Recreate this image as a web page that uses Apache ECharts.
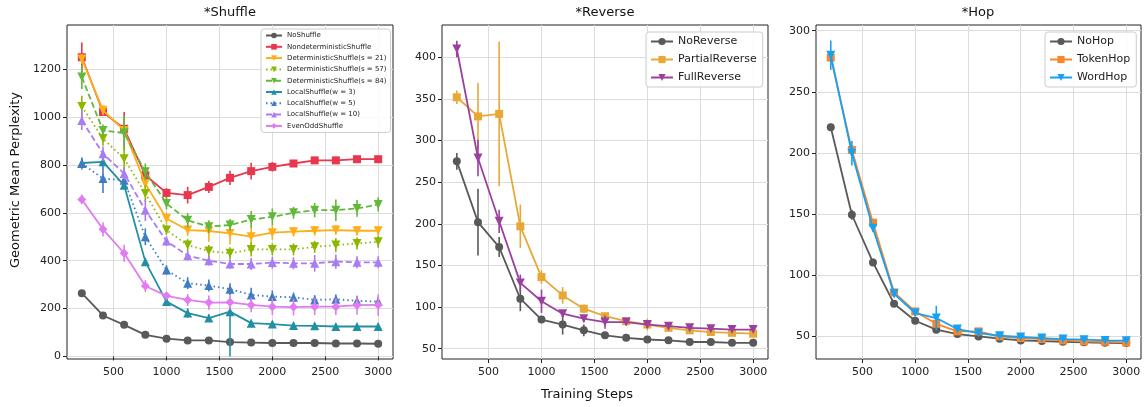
<!DOCTYPE html>
<html><head><meta charset="utf-8">
<script src="https://cdn.jsdelivr.net/npm/echarts@6/dist/echarts.min.js"></script>
<style>html,body{margin:0;padding:0;background:#fff}#c{width:1146px;height:407px}</style>
</head><body><div id="c"></div>
<script>
// ---- data ----
const steps = [200,400,600,800,1000,1200,1400,1600,1800,2000,2200,2400,2600,2800,3000];
const xTicks = [500,1000,1500,2000,2500,3000];
const yTicks1 = [0,200,400,600,800,1000,1200];
const yTicks2 = [50,100,150,200,250,300,350,400];
const yTicks3 = [50,100,150,200,250,300];

// *Shuffle
const noShuffle     = [264,171,132,90,74,67,67,60,58,56,56,56,54,54,53];
const noShuffleErr  = [5,5,5,5,4,4,4,4,3,3,3,3,3,3,3];
const nondetShuffle = [1250,1021,951,757,683,674,708,746,774,792,806,819,819,824,824];
const nondetShuffleErr = [62,15,70,25,20,35,25,30,35,20,15,12,15,12,10];
const det21 = [1243,1028,944,722,576,528,524,514,500,517,521,525,528,525,525];
const det21Err = [20,20,25,30,25,25,45,45,40,30,20,20,20,20,20];
const det57 = [1044,910,826,681,528,465,440,431,447,447,447,458,465,472,479];
const det57Err = [45,30,60,35,20,25,25,25,30,25,25,25,30,25,25];
const det84 = [1167,944,933,771,639,569,542,549,572,583,600,611,611,618,635];
const det84Err = [50,25,70,35,25,30,25,25,35,35,25,30,45,35,30];
const local3 = [808,813,715,396,229,181,160,187,139,135,129,128,125,125,125];
const local3Err = [20,15,15,15,15,20,15,[187,18],15,12,12,12,12,12,12];
const local5 = [806,743,736,500,361,306,296,281,257,250,247,236,239,232,229];
const local5Err = [25,60,20,35,20,25,25,25,30,25,20,20,20,20,20];
const local10 = [986,847,764,611,482,421,400,386,386,392,389,389,396,393,393];
const local10Err = [40,30,25,45,20,20,20,20,25,25,25,35,30,25,25];
const evenOdd = [656,531,431,294,253,236,225,226,215,208,206,208,208,214,215];
const evenOddErr = [20,30,35,25,15,25,30,30,30,35,35,35,35,40,45];

// *Reverse
const noReverse = [275,202,172,110,85,79,72,66,63,61,60,58,58,57,57];
const noReverseErr = [10,40,12,15,4,12,7,3,3,3,3,3,3,3,3];
const partialReverse = [352,329,332,197,136,114,98,89,83,79,75,72,70,69,68];
const partialReverseErr = [8,40,87,26,8,10,5,4,4,7,4,4,3,3,3];
const fullReverse = [410,279,203,129,107,92,86,82,82,79,77,75,74,73,73];
const fullReverseErr = [10,22,14,10,14,4,4,8,4,4,3,3,3,3,3];

// *Hop
const noHop = [221,149.5,110.5,76.7,62.8,55.5,51.9,50,48.1,46.7,46.2,45.6,45.1,44.8,44.6];
const noHopErr = [3,4,3,2,2,1,1,1,1,1,1,1,1,1,1];
const tokenHop = [278,202.5,143,86,70.4,60.3,54.1,54.1,50,48.6,47.8,46.7,45.9,45.6,45.1];
const tokenHopErr = [4,4,3,2,2,2,1,1,1,1,1,1,1,1,1];
const wordHop = [280,199.8,138.5,84.9,69.1,65,56,52.7,50.5,49.5,48.6,47.8,47.3,46.7,46.5];
const wordHopErr = [12,10,3,3,2,10,2,1,1,1,1,1,1,1,1];

// ---- build ----
const FONT = 'DejaVu Sans';
const series = [];
function add(panel, name, vals, errs, color, symbol, size, lineType, rotate) {
  series.push({
    name: name, type: 'line', xAxisIndex: panel, yAxisIndex: panel,
    data: steps.map((s, i) => [s, vals[i]]),
    symbol: symbol, symbolSize: size, symbolRotate: rotate || 0,
    lineStyle: { color: color, width: 1.8, type: lineType || 'solid' },
    itemStyle: { color: color },
    z: 3 + series.length / 100
  });
  series.push({
    name: name + '__err', type: 'custom', xAxisIndex: panel, yAxisIndex: panel,
    data: steps.map((s, i) => {
      const e = errs[i];
      const lo = Array.isArray(e) ? e[0] : e, hi = Array.isArray(e) ? e[1] : e;
      return [s, vals[i] - lo, vals[i] + hi];
    }),
    encode: { x: 0, y: [1, 2] },
    z: 3 + series.length / 100,
    renderItem: function (params, api) {
      const a = api.coord([api.value(0), api.value(1)]);
      const b = api.coord([api.value(0), api.value(2)]);
      return { type: 'line', shape: { x1: a[0], y1: a[1], x2: b[0], y2: b[1] },
               style: { stroke: color, lineWidth: 1.6 } };
    }
  });
}
const GRAY = '#595959';
add(0, 'NoShuffle', noShuffle, noShuffleErr, GRAY, 'circle', 8);
add(0, 'NondeterministicShuffle', nondetShuffle, nondetShuffleErr, '#e8384f', 'rect', 8);
add(0, 'DeterministicShuffle(s = 21)', det21, det21Err, '#fdae19', 'triangle', 9, 'solid', 180);
add(0, 'DeterministicShuffle(s = 57)', det57, det57Err, '#8db600', 'triangle', 9, [1.5, 3], 180);
add(0, 'DeterministicShuffle(s = 84)', det84, det84Err, '#62b83a', 'triangle', 9, [6, 3], 180);
add(0, 'LocalShuffle(w = 3)', local3, local3Err, '#2190a4', 'triangle', 9);
add(0, 'LocalShuffle(w = 5)', local5, local5Err, '#3f7cc2', 'triangle', 9, [1.5, 3]);
add(0, 'LocalShuffle(w = 10)', local10, local10Err, '#a97cf2', 'triangle', 9, [6, 3]);
add(0, 'EvenOddShuffle', evenOdd, evenOddErr, '#e07cf0', 'diamond', 9);

add(1, 'NoReverse', noReverse, noReverseErr, GRAY, 'circle', 8);
add(1, 'PartialReverse', partialReverse, partialReverseErr, '#e8a838', 'rect', 8);
add(1, 'FullReverse', fullReverse, fullReverseErr, '#9b409f', 'triangle', 9, 'solid', 180);

add(2, 'NoHop', noHop, noHopErr, GRAY, 'circle', 8);
add(2, 'TokenHop', tokenHop, tokenHopErr, '#f8872c', 'rect', 8);
add(2, 'WordHop', wordHop, wordHopErr, '#15a2f5', 'triangle', 9, 'solid', 180);

const grids = [
  { left: 67, right: 753, top: 25, bottom: 48 },
  { left: 442, right: 378, top: 25, bottom: 48 },
  { left: 816, right: 5, top: 25, bottom: 48 }
];
grids.forEach(g => { g.show = true; g.borderColor = '#222'; g.borderWidth = 1; g.containLabel = false; });

const labelStyle = { color: '#222', fontSize: 11, fontFamily: FONT, formatter: v => String(v) };
function xAxis(i) {
  return { type: 'value', gridIndex: i, min: 60, max: 3140,
    axisLine: { show: false },
    axisTick: { show: true, length: 4, lineStyle: { color: '#222' }, customValues: xTicks },
    axisLabel: Object.assign({ customValues: xTicks, margin: 8 }, labelStyle),
    splitLine: { show: true, lineStyle: { color: '#dcdcdc', width: 1 } } };
}
function yAxis(i, min, max, ticks) {
  return { type: 'value', gridIndex: i, min: min, max: max,
    axisLine: { show: false },
    axisTick: { show: true, length: 4, lineStyle: { color: '#222' }, customValues: ticks },
    axisLabel: Object.assign({ customValues: ticks, margin: 6 }, labelStyle),
    splitLine: { show: true, lineStyle: { color: '#dcdcdc', width: 1 } } };
}

function legend(names, left, top, opts) {
  return Object.assign({
    data: names, orient: 'vertical', left: left, top: top,
    backgroundColor: 'rgba(255,255,255,0.85)', borderColor: '#cccccc', borderWidth: 1, borderRadius: 3,
    textStyle: { color: '#222', fontFamily: FONT, fontSize: 10 },
    inactiveColor: '#ccc', selectedMode: false
  }, opts);
}

const option = {
  animation: false,
  grid: grids,
  xAxis: [xAxis(0), xAxis(1), xAxis(2)],
  yAxis: [yAxis(0, -10.8, 1384.6, yTicks1), yAxis(1, 37.6, 438.8, yTicks2), yAxis(2, 31.5, 304.7, yTicks3)],
  legend: [
    legend(['NoShuffle','NondeterministicShuffle','DeterministicShuffle(s = 21)','DeterministicShuffle(s = 57)','DeterministicShuffle(s = 84)','LocalShuffle(w = 3)','LocalShuffle(w = 5)','LocalShuffle(w = 10)','EvenOddShuffle'],
      261, 29, { itemWidth: 16, itemHeight: 7, itemGap: 4.3, padding: [3, 4, 3, 4], textStyle: { color: '#222', fontFamily: FONT, fontSize: 7 } }),
    legend(['NoReverse','PartialReverse','FullReverse'], 646, 32,
      { itemWidth: 22, itemHeight: 9, itemGap: 7, padding: [4, 6, 4, 4], textStyle: { color: '#222', fontFamily: FONT, fontSize: 11 } }),
    legend(['NoHop','TokenHop','WordHop'], 1045, 32,
      { itemWidth: 22, itemHeight: 9, itemGap: 7, padding: [4, 6, 4, 4], textStyle: { color: '#222', fontFamily: FONT, fontSize: 11 } })
  ],
  graphic: [
    { type: 'text', x: 230, y: 6, style: { text: '*Shuffle', fontSize: 13, fontFamily: FONT, fill: '#111', textAlign: 'center' } },
    { type: 'text', x: 605, y: 6, style: { text: '*Reverse', fontSize: 13, fontFamily: FONT, fill: '#111', textAlign: 'center' } },
    { type: 'text', x: 978, y: 6, style: { text: '*Hop', fontSize: 13, fontFamily: FONT, fill: '#111', textAlign: 'center' } },
    { type: 'text', x: 587, y: 388, style: { text: 'Training Steps', fontSize: 13, fontFamily: FONT, fill: '#111', textAlign: 'center' } },
    { type: 'text', x: 16, y: 180, rotation: Math.PI / 2, style: { text: 'Geometric Mean Perplexity', fontSize: 13, fontFamily: FONT, fill: '#111', textAlign: 'center', textVerticalAlign: 'middle' } }
  ],
  series: series
};
const chart = echarts.init(document.getElementById('c'), null, { renderer: 'canvas' });
chart.setOption(option);
</script></body></html>
